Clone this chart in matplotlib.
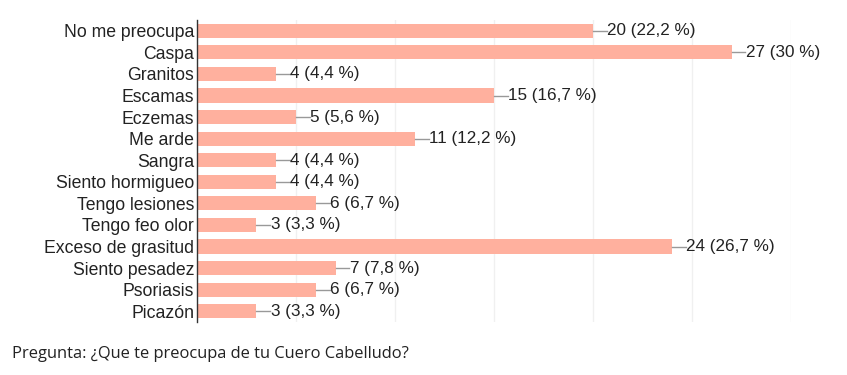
import matplotlib.pyplot as plt

categories = ['No me preocupa', 'Caspa', 'Granitos', 'Escamas', 'Eczemas', 'Me arde',
              'Sangra', 'Siento hormigueo', 'Tengo lesiones', 'Tengo feo olor',
              'Exceso de grasitud', 'Siento pesadez', 'Psoriasis', 'Picazón']
counts = [20, 27, 4, 15, 5, 11, 4, 4, 6, 3, 24, 7, 6, 3]
percents = ['22,2', '30', '4,4', '16,7', '5,6', '12,2', '4,4', '4,4', '6,7', '3,3',
            '26,7', '7,8', '6,7', '3,3']

fig = plt.figure(figsize=(8.47, 3.75), dpi=100)
ax = fig.add_axes([197 / 847, 1 - 322 / 375, (791 - 197) / 847, (322 - 20) / 375])

y = list(range(len(categories)))
ax.barh(y, counts, height=0.66, color='#ffb09e', zorder=2)

for yi, c, p in zip(y, counts, percents):
    ax.plot([c, c + 0.7], [yi, yi], color='#999999', lw=1, zorder=2)
    ax.text(c + 0.72, yi, f'{c} ({p} %)', va='center', ha='left',
            fontsize=12.3, family='Liberation Sans', color='#222222')

ax.set_xlim(0, 30)
ax.set_ylim(len(categories) - 0.5, -0.5)
ax.set_xticks(range(0, 31, 5))
ax.set_xticklabels([])
ax.tick_params(axis='x', length=0)
ax.tick_params(axis='y', length=0, pad=2)
ax.set_yticks(y)
ax.set_yticklabels(categories, fontsize=12.7, family='Liberation Sans', color='#222222')
ax.grid(axis='x', color='#f0f0f0', lw=1, zorder=0)
for s in ['top', 'right', 'bottom']:
    ax.spines[s].set_visible(False)
ax.spines['left'].set_color('#333333')
ax.spines['left'].set_linewidth(1)

fig.text(12 / 847, 1 - 354 / 375, 'Pregunta: ¿Que te preocupa de tu Cuero Cabelludo?',
         fontsize=11.9, family='Open Sans', va='center', ha='left', color='#222222')

fig.savefig('out.png', dpi=100)
